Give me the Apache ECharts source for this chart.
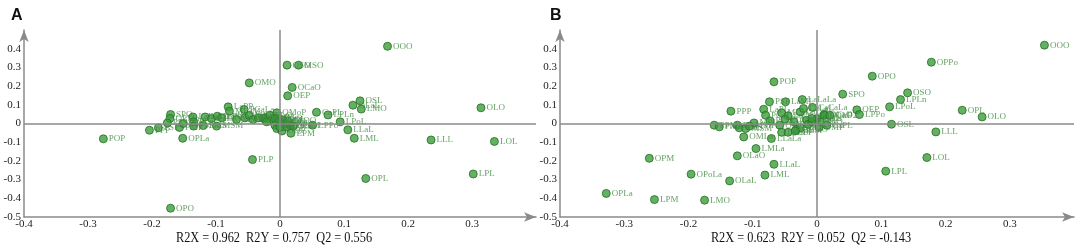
<!DOCTYPE html>
<html><head><meta charset="utf-8">
<script src="https://cdn.jsdelivr.net/npm/echarts@6/dist/echarts.min.js"></script>
<style>html,body{margin:0;padding:0;background:#fff}#c{width:1084px;height:250px}</style>
</head><body><div id="c"></div>
<script>
// Panel A (PLS-DA scores, R2X = 0.962)
const namesA = ["OOO","OSO","MSO","OCaO","OEP","OSL","OLaL","LMO","OLO","CaPL","LPLn","LPoL","LLaL","LML","LLL","LOL","LPL","OPL","LPPo","EPM","OMoP",
  "OMO","POP","OPLa","PLP","OPO","PPP","PSP","SPO","OPMo","PPS","PMP","POS","LaLaL","PLaL","PMoL","SMS","LaOL","MSM","LaLL","LaPL","OPP","LaPP","MLaM","PCaLa","MMP","OPPo","MLM","LaML","MMM","CaLaM",
  "PLO","OLaO","LaOO","OMP","PPL","OOP","MOL","LOO","OLaM","SOL","POL","OML","LaLO","CaOO","SSO","LOP"];
const xA = [0.168,0.011,0.029,0.019,0.012,0.125,0.114,0.127,0.314,0.057,0.075,0.094,0.106,0.116,0.236,0.335,0.302,0.134,0.051,0.017,-0.005,
  -0.048,-0.276,-0.152,-0.043,-0.171,-0.204,-0.190,-0.171,-0.172,-0.176,-0.157,-0.151,-0.136,-0.135,-0.135,-0.120,-0.117,-0.099,-0.107,-0.098,-0.091,-0.081,-0.079,-0.056,-0.068,-0.055,-0.048,-0.042,-0.023,-0.017,
  -0.016,-0.008,-0.003,-0.008,-0.005,0.003,0.008,0.010,0.016,0.021,0.005,-0.026,-0.021,0.012,0.000,-0.034];
const yA = [0.413,0.312,0.312,0.193,0.148,0.121,0.098,0.077,0.084,0.060,0.046,0.009,-0.034,-0.079,-0.088,-0.096,-0.270,-0.294,-0.009,-0.052,0.057,
  0.217,-0.082,-0.079,-0.193,-0.453,-0.036,-0.023,0.048,0.027,0.003,-0.021,0.000,0.035,0.009,-0.014,-0.011,0.035,-0.014,0.027,0.039,0.030,0.089,0.066,0.075,0.021,0.030,0.043,0.021,0.032,0.014,
  0.044,0.027,0.009,-0.009,-0.027,-0.040,0.000,-0.018,-0.009,-0.014,0.018,0.027,0.009,0.014,-0.020,0.030];

// Panel B (PLS-DA scores, R2X = 0.623)
const namesB = ["OOO","OPPo","OPO","SPO","OSO","LPLn","LPoL","OEP","LPPo","OPL","OLO","OSL","LLL","LOL","LPL",
  "POP","PSP","LaML","LaLaLa","PPP","LaPL","PCaL","PLaL","MLaL","LaOL","PLL","OMO","POO","LaLaL","CaLaL","CaLaO","MLO","MLM","OLL","LaOO","CaCaLa","OCaO","CaPL","OOL","PLO","LOO","OLaO2","OLP",
  "MPL","PPM","PMP","PPS","SMS","MSM","MMP","OMLa","LLaLa","LMLa","OLaO","LLaL","LML","OPM","OPoLa","OLaL","OPLa","LPM","LMO",
  "LaLO","LaPP","PLaLa","OMP"];
const xB = [0.354,0.178,0.086,0.040,0.141,0.130,0.113,0.062,0.066,0.226,0.257,0.116,0.185,0.171,0.107,
  -0.067,-0.074,-0.049,-0.023,-0.134,-0.083,-0.080,-0.073,-0.055,-0.045,-0.050,-0.058,-0.036,-0.026,-0.021,-0.032,-0.026,-0.034,-0.016,-0.014,-0.007,0.011,0.015,0.000,0.005,-0.008,0.012,0.020,
  -0.098,-0.160,-0.152,-0.124,-0.121,-0.111,-0.105,-0.114,-0.071,-0.095,-0.124,-0.067,-0.081,-0.261,-0.196,-0.136,-0.328,-0.253,-0.175,
  -0.055,-0.045,-0.008,0.003];
const yB = [0.419,0.328,0.253,0.157,0.164,0.128,0.089,0.073,0.048,0.071,0.035,-0.004,-0.045,-0.182,-0.255,
  0.223,0.116,0.116,0.128,0.066,0.076,0.044,0.014,0.057,0.041,0.023,-0.009,0.009,0.062,0.080,-0.032,-0.023,-0.040,0.018,-0.005,0.086,0.048,-0.009,0.027,0.009,0.009,0.044,0.044,
  0.003,-0.009,-0.018,-0.009,-0.023,-0.027,-0.014,-0.072,-0.080,-0.134,-0.173,-0.218,-0.276,-0.186,-0.271,-0.307,-0.374,-0.407,-0.410,
  -0.047,-0.047,0.027,-0.020];

const statsA = "R2X = 0.962  R2Y = 0.757  Q2 = 0.556";
const statsB = "R2X = 0.623  R2Y = 0.052  Q2 = -0.143";

const axisGray = '#8a8a8a';
const serif = '"Liberation Serif", "DejaVu Serif", serif';

function pts(names, xs, ys) { return names.map((n, i) => ({ name: n, value: [xs[i], ys[i]] })); }

function xAx(idx) {
  return { type: 'value', gridIndex: idx, min: -0.4, max: 0.4, interval: 0.1,
    axisLine: { onZero: false, lineStyle: { color: axisGray, width: 1.5 }, symbol: ['none', 'arrow'], symbolSize: [7, 12] },
    axisTick: { show: false }, splitLine: { show: false },
    axisLabel: { showMaxLabel: false, color: '#222', fontFamily: serif, fontSize: 11, margin: 2 } };
}
function yAx(idx) {
  return { type: 'value', gridIndex: idx, min: -0.5, max: 0.5, interval: 0.1,
    axisLine: { onZero: false, lineStyle: { color: axisGray, width: 1.5 }, symbol: ['none', 'arrow'], symbolSize: [7, 12] },
    axisTick: { show: false }, splitLine: { show: false },
    axisLabel: { showMaxLabel: false, color: '#222', fontFamily: serif, fontSize: 11, margin: 3 } };
}
function ser(idx, data) {
  return { type: 'scatter', xAxisIndex: idx, yAxisIndex: idx, data: data, symbolSize: 8,
    itemStyle: { color: '#3d9e3d', borderColor: '#226e22', borderWidth: 1 },
    label: { show: true, position: 'right', distance: 1, formatter: '{b}', color: '#3f8a3f', fontFamily: serif, fontSize: 9 },
    labelLayout: { hideOverlap: false },
    markLine: { silent: true, symbol: 'none', label: { show: false }, animation: false,
      lineStyle: { color: axisGray, type: 'solid', width: 1.5 },
      data: [{ xAxis: 0 }, { yAxis: 0 }] },
    animation: false };
}
function statText(txt, cx) {
  return { type: 'text', x: cx, y: 238, scaleX: 0.82,
    style: { text: txt, font: '15px ' + serif, fill: '#111', textAlign: 'center', textVerticalAlign: 'middle' } };
}

const chart = echarts.init(document.getElementById('c'), null, { renderer: 'canvas' });
chart.setOption({
  animation: false,
  backgroundColor: '#fff',
  grid: [
    { left: 24, top: 30, width: 512, height: 187 },
    { left: 560, top: 30, width: 514, height: 187 }
  ],
  title: [
    { text: 'A', left: 6, top: 3, textStyle: { fontFamily: 'Arial, "Liberation Sans", sans-serif', fontWeight: 'bold', fontSize: 16, color: '#111' } },
    { text: 'B', left: 545, top: 3, textStyle: { fontFamily: 'Arial, "Liberation Sans", sans-serif', fontWeight: 'bold', fontSize: 16, color: '#111' } }
  ],
  graphic: [statText(statsA, 274), statText(statsB, 811)],
  xAxis: [xAx(0), xAx(1)],
  yAxis: [yAx(0), yAx(1)],
  series: [ser(0, pts(namesA, xA, yA)), ser(1, pts(namesB, xB, yB))]
});
</script></body></html>
